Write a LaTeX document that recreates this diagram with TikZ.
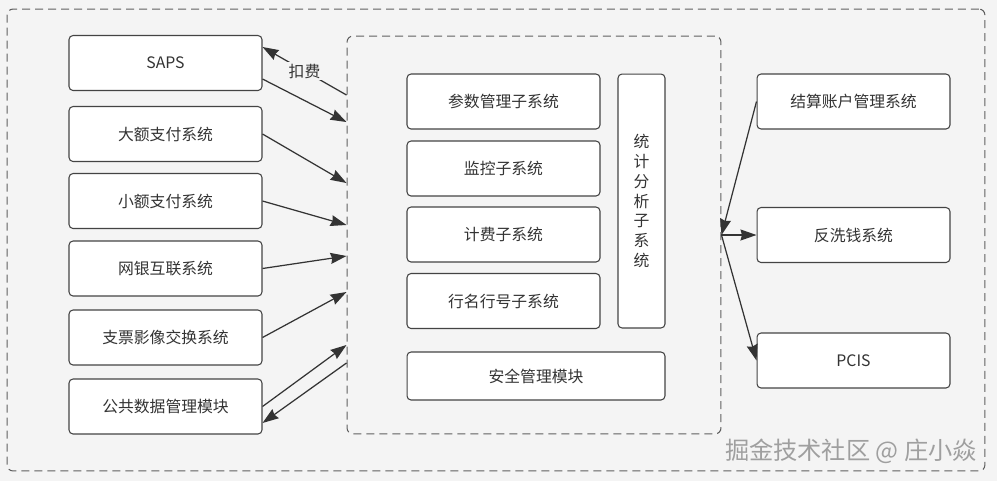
\documentclass[tikz,border=0pt]{standalone}
\usepackage{fontspec}
\setmainfont{Noto Sans CJK SC}
\usepackage{xcolor}
\usetikzlibrary{arrows.meta, positioning}
\definecolor{bggray}{HTML}{F4F4F4}
\definecolor{linegray}{HTML}{444444}
\definecolor{txtgray}{HTML}{333333}

\begin{document}
\begin{tikzpicture}[x=0.02cm, y=-0.02cm,
				>={Stealth[length=0.32cm, width=0.22cm, inset=0.03cm]},
				sysbox/.style={draw=linegray, fill=white, rounded corners=0.08cm, line width=0.6pt,
					minimum width=3.86cm, minimum height=1.1cm, inner sep=0pt,
					text=txtgray, font=\fontsize{9}{11}\selectfont},
				dashbox/.style={draw=linegray!85, dash pattern=on 0.16cm off 0.1cm,
					rounded corners=0.12cm, line width=0.6pt},
				link/.style={->, draw=txtgray, line width=0.7pt}]
				\fill[bggray] (0,0) rectangle (997,481);
				\node at (496,240) (outer) [dashbox, minimum width=19.56cm, minimum height=9.24cm] {};
				\node at (534,235) (mid) [dashbox, minimum width=7.48cm, minimum height=7.96cm] {};
				% left column
				\node at (165.5,63) (saps) [sysbox] {SAPS};
				\node at (165.5,134) (dae) [sysbox] {大额支付系统};
				\node at (165.5,201) (xiaoe) [sysbox] {小额支付系统};
				\node at (165.5,268.5) (wangyin) [sysbox] {网银互联系统};
				\node at (165.5,337.5) (zhipiao) [sysbox] {支票影像交换系统};
				\node at (165.5,406.5) (gonggong) [sysbox] {公共数据管理模块};
				% middle
				\node at (503.5,101.5) (canshu) [sysbox] {参数管理子系统};
				\node at (503.5,168.5) (jiankong) [sysbox] {监控子系统};
				\node at (503.5,234.5) (jifei) [sysbox] {计费子系统};
				\node at (503.5,301) (hangming) [sysbox] {行名行号子系统};
				\node at (641.5,201) (tongji) [sysbox, minimum width=0.94cm, minimum height=5.08cm, align=center,
					font=\fontsize{9}{11.3}\selectfont] {统\\计\\分\\析\\子\\系\\统};
				\node at (536,376) (anquan) [sysbox, minimum width=5.16cm, minimum height=0.96cm] {安全管理模块};
				% right column
				\node at (853.5,101.5) (jiesuan) [sysbox] {结算账户管理系统};
				\node at (853.5,235) (fanxiqian) [sysbox] {反洗钱系统};
				\node at (853.5,360.5) (pcis) [sysbox] {PCIS};
				\draw[link] ([yshift=2.8cm]mid.west) -- node[fill=bggray, inner sep=1pt, text=txtgray,
					font=\fontsize{9}{11}\selectfont] {扣费} ([yshift=0.32cm]saps.east);
				\draw[link] ([yshift=-0.32cm]saps.east) -- ([yshift=2.26cm]mid.west);
				\draw[link] (dae.east) -- ([yshift=1.04cm]mid.west);
				\draw[link] (xiaoe.east) -- ([yshift=0.2cm]mid.west);
				\draw[link] (wangyin.east) -- ([yshift=-0.42cm]mid.west);
				\draw[link] (zhipiao.east) -- ([yshift=-1.14cm]mid.west);
				\draw[link] (gonggong.east) -- ([yshift=-2.2cm]mid.west);
				\draw[link] ([yshift=-2.56cm]mid.west) -- ([yshift=-0.33cm]gonggong.east);
				\draw[link] (jiesuan.west) -- (mid.east);
				\draw[link] (mid.east) -- (fanxiqian.west);
				\draw[link] (mid.east) -- (pcis.west);
				\node at (851,451) (mark) [text=gray!75, font=\fontsize{13.8}{16}\selectfont] {掘金技术社区 @ 庄小焱};
			\end{tikzpicture}
\end{document}
